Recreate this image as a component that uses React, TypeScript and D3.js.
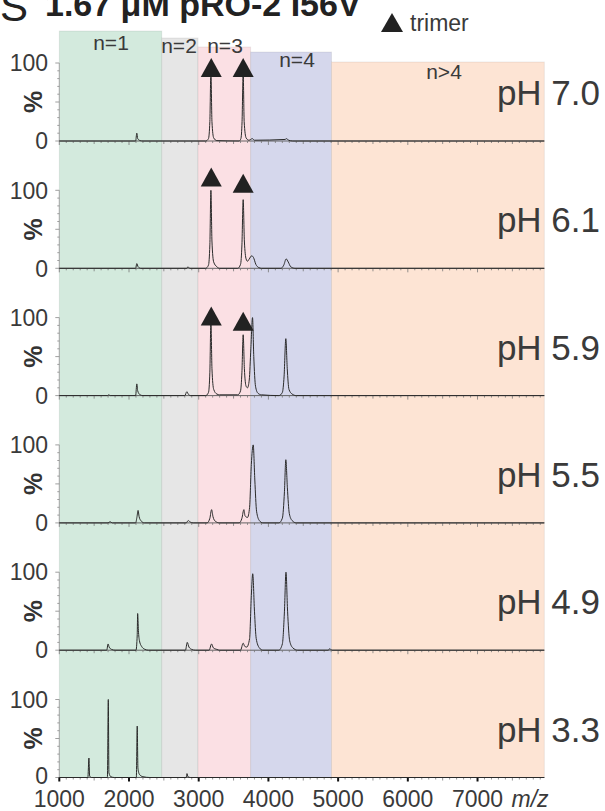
import React from "react";
import * as d3 from "d3";

// ---------- data ----------
const phLabels = ["pH 7.0", "pH 6.1", "pH 5.9", "pH 5.5", "pH 4.9", "pH 3.3"];

type Pt = [number, number];
const spectrumPH70: Pt[] = [
  [1000, 0], [2095, 0], [2112, 10], [2125, 3], [2160, 0.5], [2200, 0],
  [3100, 0], [3140, 3], [3160, 25], [3175, 90], [3190, 25], [3215, 4], [3260, 0.5],
  [3580, 0], [3605, 3], [3622, 25], [3638, 88], [3652, 25], [3680, 4], [3720, 1],
  [3770, 3], [3800, 1], [4240, 2], [4260, 3], [4290, 1], [4350, 0], [7958, 0],
];
const spectrumPH61: Pt[] = [
  [1000, 0], [2095, 0], [2112, 6], [2130, 2], [2170, 0], [2830, 0], [2845, 2], [2870, 0],
  [3100, 0], [3140, 4], [3160, 30], [3175, 100], [3190, 35], [3215, 8], [3260, 2], [3300, 0],
  [3560, 0], [3600, 5], [3620, 30], [3638, 88], [3655, 35], [3680, 12], [3700, 9],
  [3725, 12], [3760, 16], [3785, 14], [3820, 5], [3860, 1], [3900, 0],
  [4180, 0], [4220, 4], [4255, 12], [4285, 8], [4320, 2], [4380, 0], [7958, 0],
];
const spectrumPH59: Pt[] = [
  [1000, 0], [1690, 0], [1710, 1], [1730, 0], [2095, 0], [2112, 15], [2125, 6], [2160, 1], [2200, 0],
  [2800, 0], [2830, 5], [2850, 2], [2880, 0],
  [3100, 0], [3140, 4], [3160, 30], [3175, 96], [3190, 35], [3215, 8], [3260, 2], [3300, 1],
  [3560, 1], [3600, 6], [3620, 30], [3638, 78], [3655, 35], [3680, 12], [3700, 10],
  [3725, 20], [3748, 60], [3772, 100], [3790, 50], [3815, 12], [3850, 3], [3900, 1],
  [4150, 0], [4200, 4], [4225, 25], [4250, 73], [4270, 35], [4295, 8], [4340, 2], [4400, 0], [7958, 0],
];
const spectrumPH55: Pt[] = [
  [1000, 0], [1700, 0], [1728, 1.5], [1760, 0], [2095, 0], [2115, 8], [2130, 16], [2145, 8],
  [2170, 3], [2220, 0], [2820, 0], [2850, 3], [2880, 1], [2920, 0],
  [3120, 0], [3160, 6], [3185, 17], [3205, 8], [3240, 2], [3300, 0],
  [3580, 0], [3620, 6], [3648, 17], [3665, 9], [3700, 7], [3730, 20], [3755, 75],
  [3782, 100], [3805, 55], [3830, 15], [3870, 3], [3920, 0],
  [4150, 0], [4200, 6], [4230, 40], [4250, 81], [4272, 45], [4300, 12], [4340, 3], [4400, 0], [7958, 0],
];
const spectrumPH49: Pt[] = [
  [1000, 0], [1680, 0], [1700, 8], [1715, 4], [1750, 1], [1800, 0],
  [2100, 0], [2118, 20], [2124, 47], [2135, 25], [2150, 12], [2180, 5], [2230, 1], [2280, 0],
  [2810, 0], [2836, 10], [2860, 4], [2900, 1], [2950, 0],
  [3150, 0], [3184, 8], [3210, 3], [3260, 1], [3300, 0],
  [3600, 0], [3638, 9], [3660, 5], [3690, 4], [3730, 15], [3755, 70], [3775, 98],
  [3800, 50], [3825, 15], [3870, 3], [3920, 0],
  [4150, 0], [4200, 8], [4230, 50], [4252, 100], [4275, 50], [4305, 12], [4350, 3], [4420, 0],
  [4860, 0], [4880, 2], [4910, 0], [7958, 0],
];
const spectrumPH33: Pt[] = [
  [1000, 0], [1410, 0], [1425, 25], [1435, 2], [1460, 0],
  [1690, 0], [1703, 100], [1712, 6], [1740, 1], [1790, 0],
  [2105, 0], [2118, 66], [2128, 12], [2150, 4], [2200, 1], [2300, 0],
  [2820, 0], [2832, 5], [2845, 1], [2880, 0], [7958, 0],
];
const spectra = [spectrumPH70, spectrumPH61, spectrumPH59, spectrumPH55, spectrumPH49, spectrumPH33];

const regionNames = ["n=1", "n=2", "n=3", "n=4", "n>4"];
const regionStart = [1000, 2470, 2990, 3745, 4905];
const regionEnd = [2470, 2990, 3745, 4905, 7958];

const markerPanel = [0, 0, 1, 1, 2, 2];
const markerMz = [3180, 3638, 3180, 3638, 3180, 3638];
const markerLevel = [82, 82, 105, 97, 90, 83];

const xTickValues = [1000, 2000, 3000, 4000, 5000, 6000, 7000];
const xTickLabels = ["1000", "2000", "3000", "4000", "5000", "6000", "7000"];
const yTickValues = [0, 100];

// ---------- layout / style ----------
const W = 605, H = 811;
const X0 = 59.3, X1 = 544.3;
const ZERO0 = 141, STEP = 127.3, PH = 78;
const regionColors = ["#d3eadd", "#e6e6e6", "#fbe0e4", "#d5d7ec", "#fde4d4"];
const regionTops = [31, 38, 47, 52, 62];
const regionLabelX = [111, 179, 225, 297, 444];
const regionLabelY = [50, 53, 53, 67, 79];
const FONT = "'Liberation Sans', Arial, Helvetica, sans-serif";
const TEXT = "#3a3a3a";

export default function App() {
  const x = d3.scaleLinear().domain([1000, 7958]).range([X0, X1]);
  const nPanels = spectra.length;
  const bottomZero = ZERO0 + STEP * (nPanels - 1);
  const minorX = d3.range(1000, 7958, 100);
  const minorY = d3.range(0, 101, 10);

  return (
    <svg width={W} height={H} style={{ position: "absolute", left: 0, top: 0, background: "#fff" }}
      fontFamily={FONT}>
      {/* title (cut at top, as in the source) */}
      <text x={0} y={21} fontSize={42} fill="#222">S</text>
      <text x={45} y={16} fontSize={34} fontWeight="bold" fill="#222">1.67 μM pRO-2 I56V</text>
      {/* legend */}
      <path d={`M${392 - 11},32 L${392 + 11},32 L392,13 Z`} fill="#222" />
      <text x={410} y={31} fontSize={23} fill={TEXT}>trimer</text>

      {/* region backgrounds */}
      {regionNames.map((n, i) => (
        <rect key={n} x={x(regionStart[i])} y={regionTops[i]}
          width={x(regionEnd[i]) - x(regionStart[i])} height={bottomZero - regionTops[i]}
          fill={regionColors[i]} stroke="rgba(0,0,0,0.07)" strokeWidth={1} />
      ))}
      {regionNames.map((n, i) => (
        <text key={"l" + n} x={regionLabelX[i]} y={regionLabelY[i]} fontSize={21}
          textAnchor="middle" fill={TEXT}>{n}</text>
      ))}

      {spectra.map((spec, p) => {
        const zero = ZERO0 + STEP * p;
        const y = d3.scaleLinear().domain([0, 100]).range([zero, zero - PH]);
        const line = d3.line<Pt>().x(d => x(d[0])).y(d => y(d[1])).curve(d3.curveMonotoneX);
        const last = p === nPanels - 1;
        return (
          <g key={p}>
            {/* y axis */}
            <line x1={X0} x2={X0} y1={y(100)} y2={zero} stroke="#999" strokeWidth={0.8} />
            {minorY.map(v => (
              <line key={v} x1={X0} x2={X0 - (v % 50 === 0 ? 4 : 2)} y1={y(v)} y2={y(v)}
                stroke="#888" strokeWidth={0.8} />
            ))}
            {yTickValues.map(v => (
              <text key={"t" + v} x={48} y={y(v) - (last && v === 0 ? 2 : 0)} dy="0.36em" fontSize={23}
                textAnchor="end" fill={TEXT}>{v}</text>
            ))}
            <text transform={`translate(33,${(y(50))}) rotate(-90)`} fontSize={25} fontWeight="bold"
              textAnchor="middle" dy="0.36em" fill="#333">%</text>

            {/* x axis line & ticks */}
            <line x1={X0} x2={X1} y1={zero} y2={zero} stroke="#555" strokeWidth={0.9} />
            {minorX.map(v => {
              const len = v % 1000 === 0 ? 4 : v % 500 === 0 ? 3 : 2;
              return (
                <line key={v} x1={x(v)} x2={x(v)} y1={zero} y2={zero + len}
                  stroke={last && v % 1000 === 0 ? "#111" : "#777"}
                  strokeWidth={last && v % 1000 === 0 ? 2 : 0.8} />
              );
            })}

            {/* spectrum */}
            <path d={line(spec) ?? ""} fill="none" stroke="#2a2a2a" strokeWidth={1} />

            {/* pH label */}
            <text x={600} y={zero - 36} fontSize={35} textAnchor="end" fill={TEXT}>{phLabels[p]}</text>
          </g>
        );
      })}

      {/* trimer markers */}
      {markerPanel.map((p, i) => {
        const zero = ZERO0 + STEP * p;
        const y = d3.scaleLinear().domain([0, 100]).range([zero, zero - PH]);
        const cx = x(markerMz[i]);
        const b = y(markerLevel[i]);
        return <path key={"m" + i} d={`M${cx - 10.5},${b} L${cx + 10.5},${b} L${cx},${b - 19} Z`} fill="#222" />;
      })}

      {/* bottom tick labels */}
      {xTickValues.map((v, i) => (
        <text key={v} x={x(v)} y={807} fontSize={23} textAnchor="middle" fill={TEXT}>{xTickLabels[i]}</text>
      ))}
      <text x={530} y={807} fontSize={23} fontStyle="italic" textAnchor="middle" fill={TEXT}>m/z</text>
    </svg>
  );
}
